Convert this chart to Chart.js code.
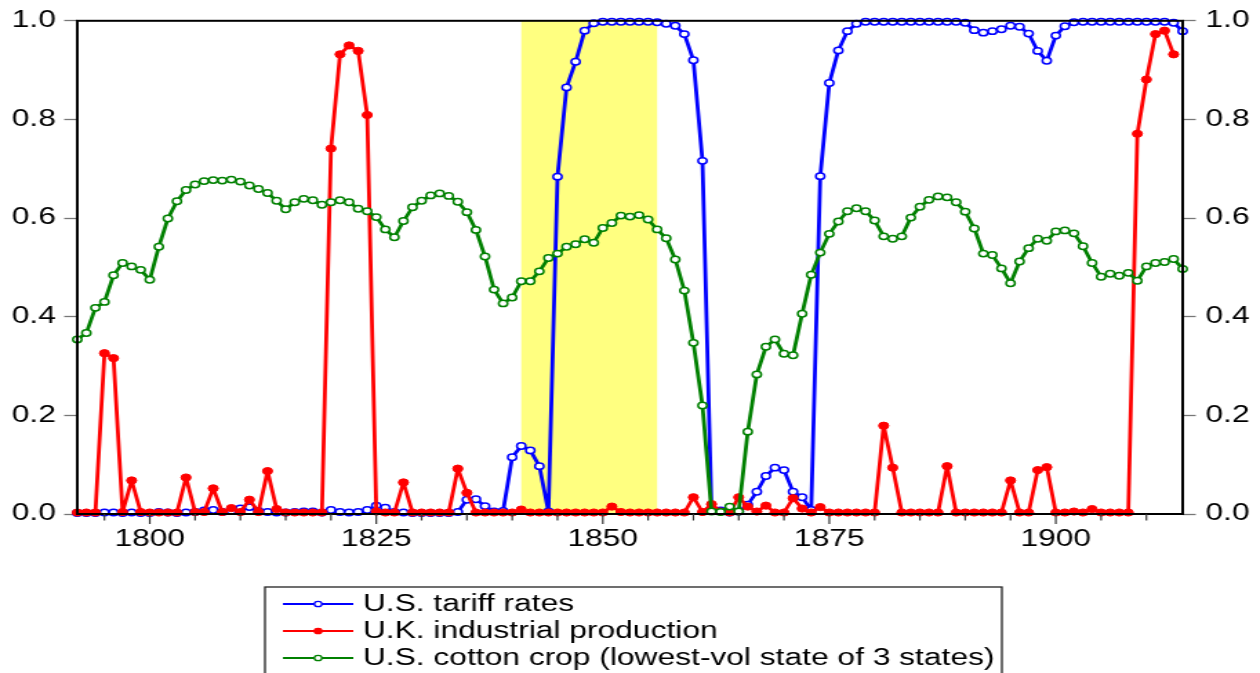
<!DOCTYPE html>
<html>
<head>
<meta charset="utf-8">
<script src="https://cdn.jsdelivr.net/npm/chart.js@4.4.1/dist/chart.umd.min.js"></script>
<style>
  html, body { margin: 0; padding: 0; background: #fff; overflow: hidden; }
  /* the reference picture is stretched sideways, so draw narrow and stretch */
  #wrap { width: 913px; height: 673px; transform: scaleX(1.38); transform-origin: 0 0; }
</style>
</head>
<body>
<div id="wrap"><canvas id="chart" width="913" height="673"></canvas></div>
<script>
const firstYear = 1792;
const lastYear = 1914;
const years = Array.from({ length: lastYear - firstYear + 1 }, (_, i) => firstYear + i);

const xLabelYears = [1800, 1825, 1850, 1875, 1900];
const yTicks = [0, 0.2, 0.4, 0.6, 0.8, 1.0];
const shadeFrom = 1841;
const shadeTo = 1856;

const seriesNames = [
  'U.S. tariff rates',
  'U.K. industrial production',
  'U.S. cotton crop (lowest-vol state of 3 states)'
];

// 1792 .. 1914
const tariff = [
  0.002, 0.002, 0.002, 0.003, 0.003, 0.002, 0.003, 0.002, 0.002, 0.004,
  0.003, 0.002, 0.003, 0.004, 0.007, 0.008, 0.004, 0.006, 0.011, 0.014,
  0.006, 0.004, 0.003, 0.003, 0.004, 0.005, 0.005, 0.003, 0.008, 0.004,
  0.003, 0.004, 0.008, 0.017, 0.013, 0.004, 0.003, 0.002, 0.002, 0.002,
  0.002, 0.002, 0.004, 0.029, 0.030, 0.016, 0.005, 0.006, 0.115, 0.138,
  0.129, 0.097, 0.005, 0.684, 0.865, 0.917, 0.980, 0.995, 0.998, 0.998,
  0.998, 0.998, 0.998, 0.998, 0.997, 0.994, 0.990, 0.973, 0.920, 0.716,
  0.006, 0.007, 0.003, 0.005, 0.019, 0.045, 0.077, 0.094, 0.089, 0.045,
  0.034, 0.008, 0.685, 0.874, 0.940, 0.979, 0.994, 0.998, 0.998, 0.998,
  0.998, 0.998, 0.998, 0.998, 0.998, 0.998, 0.998, 0.998, 0.996, 0.981,
  0.976, 0.979, 0.983, 0.990, 0.988, 0.974, 0.939, 0.919, 0.970, 0.989,
  0.997, 0.998, 0.998, 0.998, 0.998, 0.998, 0.998, 0.998, 0.998, 0.998,
  0.998, 0.996, 0.979
];

const ukProduction = [
  0.003, 0.003, 0.003, 0.326, 0.316, 0.004, 0.068, 0.004, 0.003, 0.003,
  0.003, 0.003, 0.074, 0.004, 0.004, 0.052, 0.004, 0.012, 0.004, 0.029,
  0.004, 0.087, 0.010, 0.003, 0.003, 0.003, 0.003, 0.003, 0.741, 0.932,
  0.950, 0.939, 0.809, 0.005, 0.003, 0.003, 0.064, 0.003, 0.003, 0.003,
  0.003, 0.003, 0.092, 0.043, 0.003, 0.003, 0.003, 0.003, 0.003, 0.009,
  0.003, 0.003, 0.003, 0.003, 0.003, 0.003, 0.003, 0.003, 0.003, 0.015,
  0.004, 0.003, 0.003, 0.003, 0.003, 0.003, 0.003, 0.003, 0.034, 0.004,
  0.020, 0.005, 0.003, 0.034, 0.015, 0.005, 0.017, 0.003, 0.003, 0.032,
  0.011, 0.003, 0.014, 0.003, 0.003, 0.003, 0.003, 0.003, 0.003, 0.179,
  0.094, 0.003, 0.003, 0.003, 0.003, 0.003, 0.097, 0.003, 0.003, 0.003,
  0.003, 0.003, 0.003, 0.068, 0.003, 0.003, 0.089, 0.095, 0.003, 0.003,
  0.005, 0.003, 0.010, 0.003, 0.003, 0.003, 0.003, 0.771, 0.881, 0.973,
  0.980, 0.932, null
];

const cottonCrop = [
  0.354, 0.367, 0.418, 0.430, 0.484, 0.509, 0.502, 0.495, 0.475, 0.542,
  0.599, 0.634, 0.657, 0.668, 0.675, 0.677, 0.676, 0.678, 0.674, 0.666,
  0.659, 0.651, 0.635, 0.618, 0.632, 0.639, 0.636, 0.627, 0.632, 0.636,
  0.632, 0.619, 0.614, 0.602, 0.577, 0.561, 0.594, 0.622, 0.635, 0.646,
  0.650, 0.645, 0.633, 0.612, 0.576, 0.522, 0.455, 0.427, 0.439, 0.472,
  0.472, 0.492, 0.519, 0.528, 0.542, 0.547, 0.557, 0.550, 0.580, 0.590,
  0.605, 0.603, 0.606, 0.597, 0.577, 0.559, 0.516, 0.453, 0.347, 0.220,
  0.005, 0.004, 0.015, 0.005, 0.167, 0.283, 0.339, 0.354, 0.325, 0.322,
  0.406, 0.485, 0.530, 0.568, 0.593, 0.614, 0.620, 0.614, 0.595, 0.563,
  0.558, 0.563, 0.601, 0.623, 0.637, 0.644, 0.642, 0.632, 0.613, 0.579,
  0.528, 0.525, 0.498, 0.468, 0.512, 0.539, 0.558, 0.554, 0.573, 0.575,
  0.569, 0.543, 0.509, 0.481, 0.487, 0.483, 0.489, 0.473, 0.502, 0.509,
  0.511, 0.517, 0.497
];

const FONT = "'Liberation Sans', Arial, sans-serif";
const FONT_SIZE = 23;

function toPoints(vals) {
  return years.map((yr, i) => ({ x: yr, y: vals[i] }));
}

// yellow band behind the lines
const shadePlugin = {
  id: 'shade',
  beforeDatasetsDraw(chart) {
    const { ctx, chartArea, scales } = chart;
    const x0 = scales.x.getPixelForValue(shadeFrom);
    const x1 = scales.x.getPixelForValue(shadeTo);
    ctx.save();
    ctx.fillStyle = '#ffff80';
    ctx.fillRect(x0, chartArea.top, x1 - x0, chartArea.bottom - chartArea.top);
    ctx.restore();
  }
};

// frame, x tick marks and the boxed legend
const framePlugin = {
  id: 'frame',
  afterDraw(chart) {
    const { ctx, chartArea, scales } = chart;
    ctx.save();
    ctx.strokeStyle = '#000';
    ctx.lineWidth = 2;
    ctx.strokeRect(chartArea.left, chartArea.top, chartArea.right - chartArea.left, chartArea.bottom - chartArea.top);

    ctx.strokeStyle = '#333';
    ctx.lineWidth = 1.2;
    for (let yr = 1795; yr <= 1910; yr += 5) {
      const px = scales.x.getPixelForValue(yr);
      const len = yr % 25 === 0 ? 10 : 6.5;
      ctx.beginPath();
      ctx.moveTo(px, chartArea.bottom);
      ctx.lineTo(px, chartArea.bottom + len);
      ctx.stroke();
    }

    // legend
    const box = { left: 192, right: 726, top: 587, bottom: 690 };
    ctx.fillStyle = '#fff';
    ctx.fillRect(box.left, box.top, box.right - box.left, box.bottom - box.top);
    ctx.strokeStyle = '#222';
    ctx.lineWidth = 1.3;
    ctx.strokeRect(box.left, box.top, box.right - box.left, box.bottom - box.top);

    const rows = [604, 631, 658];
    chart.data.datasets.forEach((ds, i) => {
      const y = rows[i];
      ctx.strokeStyle = ds.borderColor;
      ctx.lineWidth = 2.2;
      ctx.beginPath();
      ctx.moveTo(205, y);
      ctx.lineTo(256, y);
      ctx.stroke();
      ctx.beginPath();
      ctx.arc(230.5, y, 2.7, 0, Math.PI * 2);
      ctx.fillStyle = ds.pointBackgroundColor;
      ctx.fill();
      ctx.lineWidth = 1.3;
      ctx.stroke();
      ctx.fillStyle = '#000';
      ctx.font = FONT_SIZE + 'px ' + FONT;
      ctx.textAlign = 'left';
      ctx.textBaseline = 'middle';
      ctx.fillText(ds.label, 263, y + 1);
    });
    ctx.restore();
  }
};

const yAxisBase = (position, padding) => ({
  type: 'linear',
  position: position,
  min: 0,
  max: 1,
  afterBuildTicks: (axis) => { axis.ticks = yTicks.map(v => ({ value: v })); },
  afterFit: (axis) => { axis.width = 56; },
  grid: { drawOnChartArea: false, drawTicks: true, tickLength: 9.5, color: '#777', tickColor: '#777', tickWidth: 1.3 },
  border: { display: false },
  ticks: {
    padding: padding,
    color: '#000',
    font: { family: FONT, size: FONT_SIZE },
    callback: (v) => Number(v).toFixed(1)
  }
});

new Chart(document.getElementById('chart'), {
  type: 'line',
  data: {
    datasets: [
      {
        label: seriesNames[0],
        data: toPoints(tariff),
        borderColor: '#0000ff',
        borderWidth: 2.8,
        pointRadius: 3.2,
        pointBorderWidth: 1.5,
        pointBackgroundColor: '#ffffff',
        order: 2
      },
      {
        label: seriesNames[1],
        data: toPoints(ukProduction),
        borderColor: '#ff0000',
        borderWidth: 2.8,
        pointRadius: 3.6,
        pointBorderWidth: 1,
        pointBackgroundColor: '#ff0000',
        order: 1
      },
      {
        label: seriesNames[2],
        data: toPoints(cottonCrop),
        borderColor: '#008000',
        borderWidth: 2.8,
        pointRadius: 3.2,
        pointBorderWidth: 1.5,
        pointBackgroundColor: '#ffffff',
        order: 0
      }
    ]
  },
  options: {
    responsive: false,
    animation: false,
    events: [],
    layout: { padding: { top: 19, left: 0, right: 0, bottom: 0 } },
    elements: { line: { tension: 0, borderJoinStyle: 'round' } },
    datasets: { line: { clip: false } },
    plugins: {
      legend: { display: false },
      tooltip: { enabled: false },
      title: { display: false }
    },
    scales: {
      x: {
        type: 'linear',
        min: firstYear,
        max: lastYear,
        afterBuildTicks: (axis) => { axis.ticks = xLabelYears.map(v => ({ value: v })); },
        afterFit: (axis) => { axis.height = 159; },
        grid: { display: false, drawTicks: false },
        border: { display: false },
        ticks: {
          padding: 12,
          maxRotation: 0,
          minRotation: 0,
          autoSkip: false,
          color: '#000',
          font: { family: FONT, size: FONT_SIZE },
          callback: (v) => String(v)
        }
      },
      y: yAxisBase('left', 6),
      y2: yAxisBase('right', 7)
    }
  },
  plugins: [shadePlugin, framePlugin]
});
</script>
</body>
</html>
